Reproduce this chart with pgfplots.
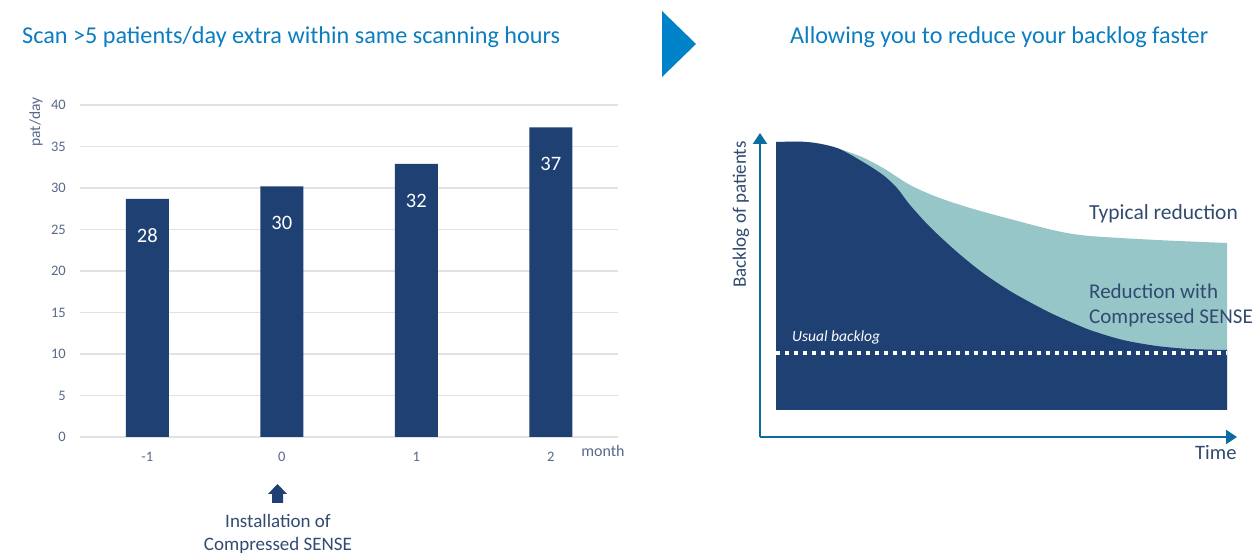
\documentclass[border=0pt]{standalone}
\usepackage{fontspec}
\setmainfont{Carlito}
\usepackage{pgfplots}
\pgfplotsset{compat=1.18}
\usetikzlibrary{arrows.meta}

\definecolor{barblue}{RGB}{31,64,115}
\definecolor{tealfill}{RGB}{150,198,199}
\definecolor{titleblue}{RGB}{11,125,192}
\definecolor{triblue}{RGB}{0,130,200}
\definecolor{axisblue}{RGB}{10,108,162}
\definecolor{tickcol}{RGB}{88,104,138}
\definecolor{textcol}{RGB}{50,74,112}
\definecolor{gridgray}{RGB}{226,226,226}

\newcommand\fs[1]{\fontsize{#1bp}{#1bp}\selectfont}

\begin{document}
\begin{tikzpicture}
\useasboundingbox (0,0) rectangle (1259bp,555bp);

% titles and the arrow between the panels
\node[anchor=base west, inner sep=0pt, text=titleblue, font=\fs{24.2}] at (22bp,511bp)
  {Scan >5 patients/day extra within same scanning hours};
\node[anchor=base west, inner sep=0pt, text=titleblue, font=\fs{24.2}] at (790bp,511bp)
  {Allowing you to reduce your backlog faster};
\fill[triblue] (662bp,544bp) -- (696bp,511bp) -- (662bp,478bp) -- cycle;

% left: patients per day
\begin{axis}[
    at={(80bp,118bp)}, anchor=south west,
    scale only axis, width=538bp, height=332bp,
    xmin=-1.5, xmax=2.5, ymin=0, ymax=40,
    xtick={-1,0,1,2}, ytick={0,5,...,40},
    axis line style={draw=none}, major tick length=0pt,
    ymajorgrids, grid style={draw=gridgray, line width=1.3bp},
    /pgf/number format/assume math mode=true,
    ticklabel style={text=tickcol, font=\fs{14.5}, inner sep=0pt},
    yticklabel style={anchor=east, xshift=-14bp},
    xticklabel style={anchor=center, yshift=-20bp},
    ybar, bar width=43bp,
    nodes near coords, point meta=explicit symbolic,
    nodes near coords style={anchor=center, yshift=-37bp, text=white, font=\fs{20.5}},
    clip=false,
]
\addplot[fill=barblue, draw=none] coordinates {(-1,28.7)[28] (0,30.2)[30] (1,32.9)[32] (2,37.3)[37]};
\end{axis}

\node[rotate=90, text=tickcol, font=\fs{15.5}, inner sep=0pt] at (36bp,433bp) {pat/day};
\node[text=tickcol, font=\fs{16}, inner sep=0pt] at (603bp,104bp) {month};
\fill[barblue] (268bp,61bp) -- (277.5bp,71bp) -- (287bp,61bp) -- (283bp,61bp)
  -- (283bp,52bp) -- (272bp,52bp) -- (272bp,61bp) -- cycle;
\node[text=textcol, font=\fs{19}, inner sep=0pt] at (278bp,34bp) {Installation of};
\node[text=textcol, font=\fs{19}, inner sep=0pt] at (278bp,10bp) {Compressed SENSE};

% right: backlog over time (schematic)
\begin{axis}[
    at={(760bp,118bp)}, anchor=south west,
    scale only axis, width=477bp, height=304bp,
    xmin=-16, xmax=461, ymin=-27, ymax=277,
    axis lines=left,
    axis line style={draw=axisblue, line width=2.2bp, -{Triangle[width=14bp,length=11bp]}},
    xtick=\empty, ytick=\empty,
    clip=false,
]
\addplot[fill=tealfill, draw=none, smooth] coordinates {
  (0,268) (41,267) (81,255) (107,242) (134,225) (161,213) (194,202) (234,191)
  (281,179) (314,174) (381,170) (451,167)} \closedcycle;
\addplot[fill=barblue, draw=none, smooth] coordinates {
  (0,268) (31,268) (61,262) (87,248) (107,235) (121,222) (134,205) (154,183)
  (181,158) (207,137) (234,119) (261,104) (281,94) (314,80) (347,70) (381,64)
  (414,61) (451,60)} \closedcycle;
\addplot[white, line width=3.5bp, dash pattern=on 4bp off 5bp] coordinates {(0,57) (451,57)};

\node[anchor=base west, inner sep=0pt, text=white, font=\fs{15.5}\itshape] at (axis cs:16,68) {Usual backlog};
\node[anchor=base west, inner sep=0pt, text=textcol, font=\fs{21.5}] at (axis cs:313,190) {Typical reduction};
\node[anchor=base west, inner sep=0pt, text=textcol, font=\fs{21}] at (axis cs:313,111) {Reduction with};
\node[anchor=base west, inner sep=0pt, text=textcol, font=\fs{21}] at (axis cs:313,86) {Compressed SENSE};
\node[anchor=base west, inner sep=0pt, text=textcol, font=\fs{20.5}] at (axis cs:419,-50) {Time};
\node[rotate=90, inner sep=0pt, text=textcol, font=\fs{19}] at (axis cs:-35,195.5) {Backlog of patients};
\end{axis}
\end{tikzpicture}
\end{document}
